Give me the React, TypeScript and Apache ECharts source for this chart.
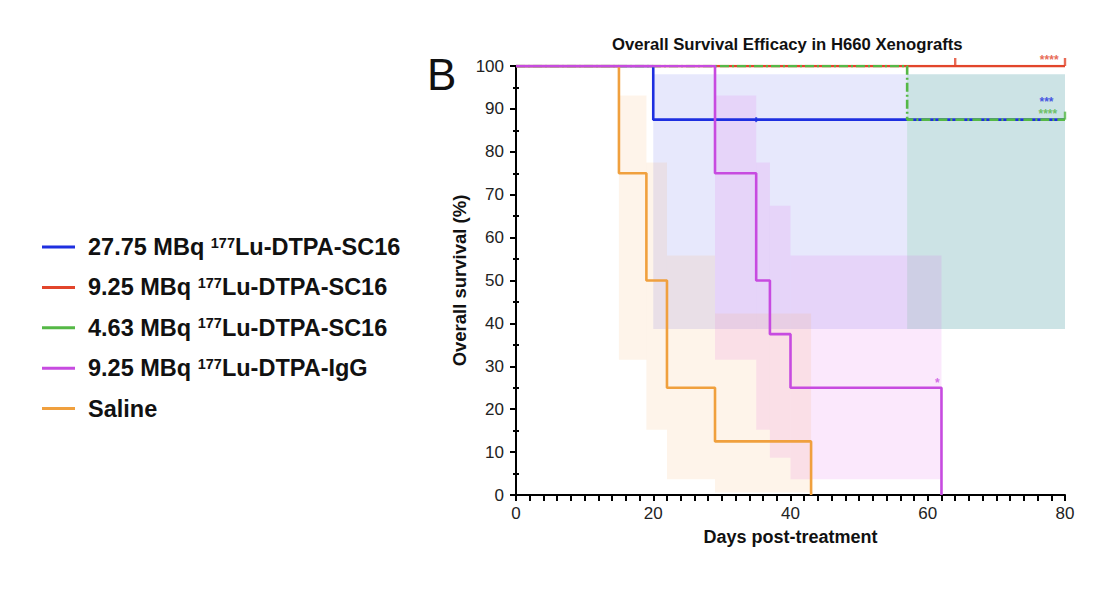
import React, { useEffect, useRef } from "react";
import * as echarts from "echarts";

// ---- data ----
const seriesNames = [
  "27.75 MBq 177Lu-DTPA-SC16",
  "9.25 MBq 177Lu-DTPA-SC16",
  "4.63 MBq 177Lu-DTPA-SC16",
  "9.25 MBq 177Lu-DTPA-IgG",
  "Saline",
];
const colors = ["#1e2fe0", "#e2452b", "#55b846", "#c74be0", "#f0a03e"];
const bandColors = [
  "rgba(70,80,235,0.13)",
  "rgba(0,0,0,0)",
  "rgba(120,215,160,0.24)",
  "rgba(225,80,235,0.13)",
  "rgba(245,165,80,0.12)",
];

// Kaplan-Meier steps [day, survival %]
const kmHigh = [[0, 100], [20, 87.5], [80, 87.5]];
const kmMid = [[0, 100], [80, 100]];
const kmLow = [[0, 100], [57, 87.5], [80, 87.5]];
const kmIgG = [[0, 100], [29, 75], [35, 50], [37, 37.5], [40, 25], [62, 0]];
const kmSaline = [[0, 100], [15, 75], [19, 50], [22, 25], [29, 12.5], [43, 0]];

// 95% CI bands [startDay, endDay, lower, upper]
const ciHigh = [[20, 80, 38.7, 98.1]];
const ciMid: number[][] = [];
const ciLow = [[57, 80, 38.7, 98.1]];
const ciIgG = [[29, 35, 31.5, 93.1], [35, 37, 15.2, 77.5], [37, 40, 8.7, 67.4], [40, 62, 3.7, 55.8]];
const ciSaline = [[15, 19, 31.5, 93.1], [19, 22, 15.2, 77.5], [22, 29, 3.7, 55.8], [29, 43, 0.6, 42.3]];

// censored observations [day, survival %]
const censorHigh = [[35, 87.5]];
const censorMid = [[64, 100], [80, 100]];
const censorLow = [[80, 87.5]];

// significance marks [day, y, text]
const sigMid = [[77.7, 101.5, "****"]];
const sigHigh = [[77.3, 91.7, "***"]];
const sigLow = [[77.5, 88.9, "****"]];
const sigIgG = [[61.4, 26.2, "*"]];

const xTicks = { min: 0, max: 80, interval: 20 };
const yTicks = { min: 0, max: 100, interval: 10 };

const kmData = [kmHigh, kmMid, kmLow, kmIgG, kmSaline];
const ciData = [ciHigh, ciMid, ciLow, ciIgG, ciSaline];

const FONT = "'Liberation Sans', Arial, sans-serif";

export default function App() {
  const ref = useRef<HTMLDivElement>(null);
  useEffect(() => {
    document.body.style.margin = "0";
    const chart = echarts.init(ref.current!, null, { renderer: "svg" });

    const bandSeries = ciData.map((d, i) => ({
      type: "custom",
      name: "band" + i,
      data: d,
      encode: { x: [0, 1], y: [2, 3] },
      z: 1,
      silent: true,
      renderItem: (params: any, api: any) => {
        const p0 = api.coord([api.value(0), api.value(3)]);
        const p1 = api.coord([api.value(1), api.value(2)]);
        return {
          type: "rect",
          shape: { x: p0[0], y: p0[1], width: p1[0] - p0[0], height: p1[1] - p0[1] },
          style: { fill: bandColors[i] },
        };
      },
    }));

    const order = [1, 0, 2, 4, 3];
    const lineSeries = order.map((i, k) => ({
      type: "line",
      name: seriesNames[i],
      data: kmData[i],
      step: "end",
      symbol: "none",
      color: colors[i],
      z: 3 + k,
      lineStyle: {
        width: 2.6,
        color: colors[i],
        type: i === 2 ? [9, 3, 2, 3] : "solid",
      },
    }));

    const censorSeries = [
      { d: censorHigh, c: colors[0], size: [2, 5], off: [0, 0] },
      { d: censorMid, c: colors[1], size: [2.4, 8], off: [0, -4] },
      { d: censorLow, c: colors[2], size: [2.4, 8], off: [0, -4] },
    ].map((s, k) => ({
      type: "scatter",
      name: "censor" + k,
      data: s.d,
      symbol: "rect",
      symbolSize: s.size,
      symbolOffset: s.off,
      itemStyle: { color: s.c },
      z: 10,
      clip: false,
      silent: true,
    }));

    const sigSeries = [
      { d: sigMid, c: colors[1] },
      { d: sigHigh, c: colors[0] },
      { d: sigLow, c: colors[2] },
      { d: sigIgG, c: colors[3] },
    ].map((s, k) => ({
      type: "scatter",
      name: "sig" + k,
      data: s.d,
      symbolSize: 0,
      clip: false,
      silent: true,
      z: 11,
      label: {
        show: true,
        position: "inside",
        formatter: (p: any) => p.data[2],
        color: s.c,
        fontSize: 12,
        lineHeight: 12,
        fontWeight: "bold",
        fontFamily: FONT,
      },
    }));

    const option: any = {
      animation: false,
      backgroundColor: "#ffffff",
      title: {
        text: "Overall Survival Efficacy in H660 Xenografts",
        left: 607,
        top: 31,
        textStyle: { fontSize: 16.7, fontWeight: "bold", color: "#111", fontFamily: FONT },
      },
      graphic: [
        {
          type: "text",
          left: 427,
          top: 52,
          style: { text: "B", fontSize: 44, fontFamily: FONT, fill: "#111" },
        },
      ],
      legend: {
        data: seriesNames,
        orient: "vertical",
        left: 37,
        top: 230,
        itemGap: 16.4,
        icon: "rect",
        itemWidth: 33,
        itemHeight: 3,
        selectedMode: false,
        formatter: (name: string) => {
          const idx = name.indexOf("177");
          if (idx < 0) return "{b|" + name + "}";
          return "{b|" + name.slice(0, idx) + "}{s|177}{b|" + name.slice(idx + 3) + "}";
        },
        textStyle: {
          padding: [0, 0, 0, 8],
          rich: {
            b: { fontSize: 23.5, fontWeight: "bold", fontFamily: FONT, color: "#111", lineHeight: 24 },
            s: { fontSize: 14.5, fontWeight: "bold", fontFamily: FONT, color: "#111", verticalAlign: "top", lineHeight: 13 },
          },
        },
      },
      grid: { left: 516, top: 66, right: 39, bottom: 97 },
      xAxis: {
        type: "value",
        ...xTicks,
        name: "Days post-treatment",
        nameLocation: "middle",
        nameGap: 33,
        nameTextStyle: { fontSize: 18, fontWeight: "bold", color: "#111", fontFamily: FONT },
        axisLine: { show: true, lineStyle: { color: "#000", width: 2 } },
        axisTick: { show: true, length: 6, lineStyle: { color: "#000", width: 2 } },
        minorTick: { show: true, splitNumber: 10, length: 6, lineStyle: { color: "#000", width: 2 } },
        splitLine: { show: false },
        axisLabel: { fontSize: 17, color: "#222", fontFamily: FONT, margin: 10 },
      },
      yAxis: [
        {
          type: "value",
          ...yTicks,
          name: "Overall survival (%)",
          nameLocation: "middle",
          nameGap: 47,
          nameTextStyle: { fontSize: 18.5, fontWeight: "bold", color: "#111", fontFamily: FONT },
          axisLine: { show: true, lineStyle: { color: "#000", width: 2 } },
          axisTick: { show: true, length: 6, lineStyle: { color: "#000", width: 2 } },
          minorTick: { show: true, splitNumber: 2, length: 3, lineStyle: { color: "#000", width: 2 } },
          splitLine: { show: false },
          axisLabel: { fontSize: 17, color: "#222", fontFamily: FONT, margin: 12 },
        },
        {
          type: "value",
          ...yTicks,
          position: "left",
          axisLine: { show: false },
          axisTick: { show: false, inside: true },
          minorTick: { show: true, splitNumber: 2, length: 3, lineStyle: { color: "#000", width: 2 } },
          splitLine: { show: false },
          axisLabel: { show: false },
        },
      ],
      series: [...bandSeries, ...lineSeries, ...censorSeries, ...sigSeries],
    };
    chart.setOption(option);
    return () => chart.dispose();
  }, []);
  return <div ref={ref} style={{ width: 1104, height: 592 }} />;
}
